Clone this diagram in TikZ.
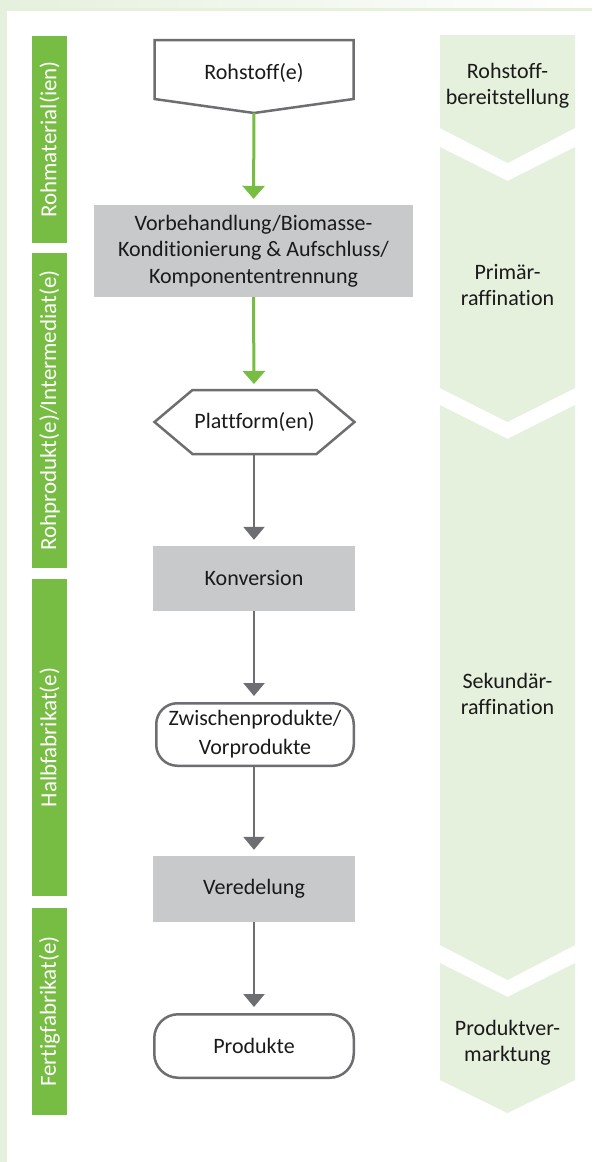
\documentclass[tikz,border=0pt]{standalone}
\usepackage{fontspec}
\setmainfont{Carlito}[Ligatures={NoCommon,NoRare,NoContextual}]
\usetikzlibrary{arrows.meta}

\definecolor{paleGreen}{HTML}{E5F0DD}
\definecolor{barGreen}{HTML}{77BD43}
\definecolor{boxGray}{HTML}{C8C9CB}
\definecolor{lineGray}{HTML}{6D6E71}
\definecolor{textDark}{HTML}{1A1A1A}

\tikzset{
  phasebar/.style={fill=barGreen, text=white, rotate=90, minimum height=35pt,
    inner sep=0pt, font=\fontsize{23}{26}\selectfont},
  phaselabel/.style={align=center, text=textDark, font=\fontsize{22}{26}\selectfont},
  stepbox/.style={fill=boxGray, text=textDark, align=center, inner sep=0pt,
    font=\fontsize{22}{26.5}\selectfont},
  roundbox/.style={draw=lineGray, line width=2.5pt, fill=white, text=textDark,
    align=center, inner sep=0pt, font=\fontsize{22}{29}\selectfont},
  outline/.style={draw=lineGray, line width=2.5pt, fill=white},
  plain/.style={text=textDark, font=\fontsize{22}{26}\selectfont},
  greenflow/.style={draw=barGreen, line width=3pt, shorten >=6pt,
    -{Triangle[width=22pt,length=13pt]}},
  grayflow/.style={draw=lineGray, line width=2.5pt, shorten >=6pt,
    -{Triangle[width=21pt,length=13pt]}}
}

\begin{document}
\begin{tikzpicture}[x=1pt,y=-1pt]
\useasboundingbox (0,0) rectangle (592,1162);
\fill[white] (0,0) rectangle (592,1162);

% page frame
\fill[paleGreen] (0,0) rectangle (7,1162);
\shade[left color=paleGreen, right color=white] (0,0) rectangle (592,8);
\fill[paleGreen] (0,8) rectangle (592,11);

% phase chevrons on the right
\fill[paleGreen] (440,35) -- (575,35) -- (575,128) -- (507.5,163) -- (440,128) -- cycle;
\fill[paleGreen] (440,147) -- (507.5,181) -- (575,147) -- (575,388) -- (507.5,422) -- (440,388) -- cycle;
\fill[paleGreen] (440,405) -- (507.5,439) -- (575,405) -- (575,945) -- (507.5,980) -- (440,945) -- cycle;
\fill[paleGreen] (440,963) -- (507.5,997) -- (575,963) -- (575,1080) -- (507.5,1113) -- (440,1080) -- cycle;

\node[phaselabel] (ph1) at (507.5,86) {Rohstoff-\\bereitstellung};
\node[phaselabel] (ph2) at (507.5,285) {Primär-\\raffination};
\node[phaselabel] (ph3) at (507.5,694) {Sekundär-\\raffination};
\node[phaselabel] (ph4) at (507.5,1043) {Produktver-\\marktung};

% material bars on the left
\node[phasebar, minimum width=207pt] (bar1) at (49.5,139.5) {Rohmaterial(ien)};
\node[phasebar, minimum width=315pt] (bar2) at (49.5,410.5) {Rohprodukt(e)/Intermediat(e)};
\node[phasebar, minimum width=317pt] (bar3) at (49.5,737.5) {Halbfabrikat(e)};
\node[phasebar, minimum width=207pt] (bar4) at (49.5,1011.5) {Fertigfabrikat(e)};

% raw material (pentagon)
\draw[outline] (154.5,40) -- (353.5,40) -- (353.5,99) -- (254,113) -- (154.5,99) -- cycle;
\node[plain] (roh) at (254,73) {Rohstoff(e)};
\coordinate (rohtip) at (254,113);

% pretreatment
\node[stepbox, minimum width=319pt, minimum height=92pt] (vorb) at (253.5,251)
  {Vorbehandlung/Biomasse-\\Konditionierung \& Aufschluss/\\Komponententrennung};

% platform (hexagon)
\draw[outline] (154.5,422) -- (192.5,390) -- (316.5,390) -- (354.5,422) -- (316.5,454) -- (192.5,454) -- cycle;
\node[plain] (plat) at (254.5,422) {Plattform(en)};
\coordinate (platN) at (254,390);
\coordinate (platS) at (254,454);

% conversion chain
\node[stepbox, minimum width=202pt, minimum height=65pt] (konv) at (254,578.5) {Konversion};
\node[roundbox, minimum width=197.5pt, minimum height=62.5pt, rounded corners=21pt] (zwi) at (255,734.5)
  {Zwischenprodukte/\\Vorprodukte};
\node[stepbox, minimum width=202pt, minimum height=66pt] (vered) at (254,889) {Veredelung};
\node[roundbox, minimum width=199.5pt, minimum height=63.5pt, rounded corners=24pt] (prod) at (254,1046) {Produkte};

% flow connectors
\draw[greenflow] (rohtip) -- (vorb.north);
\draw[greenflow] (vorb.south) -- (platN);
\draw[grayflow] (platS) -- (konv.north);
\draw[grayflow] (konv.south) -- (zwi.north -| konv.south);
\draw[grayflow] (zwi.south -| konv.south) -- (vered.north);
\draw[grayflow] (vered.south) -- (prod.north);
\end{tikzpicture}
\end{document}
